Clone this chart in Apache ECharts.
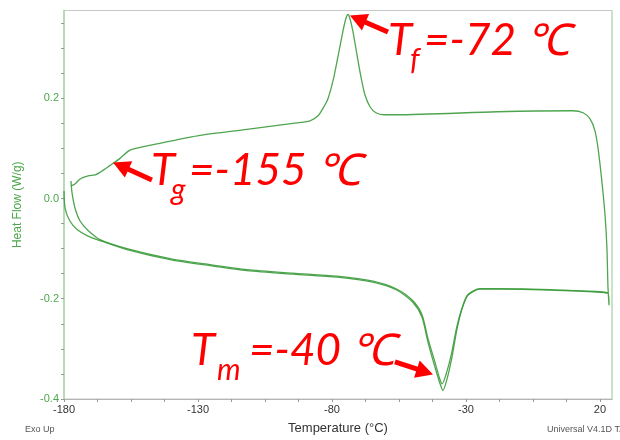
<!DOCTYPE html>
<html>
<head>
<meta charset="utf-8">
<script src="https://cdn.jsdelivr.net/npm/echarts@6/dist/echarts.min.js"></script>
<style>
html,body{margin:0;padding:0;background:#fff;}
#chart{width:620px;height:440px;}
</style>
</head>
<body>
<div id="chart"></div>
<script>
// ---- data ----
const upperTemp = [-177.4,-175.9,-174.0,-171.0,-168.4,-166.6,-162.8,-159.1,-156.1,-154.6,-144.2,-129.3,-111.7,-94.6,-88.2,-85.2,-83.0,-81.5,-79.6,-77.8,-75.9,-74.8,-74.0,-73.3,-72.2,-70.7,-69.2,-67.7,-65.8,-63.6,-60.6,-55.7,-18.4,9.9,13.7,16.3,18.1,19.3,20.7,21.9,22.6,23.0,23.4];
const upperFlow = [0.025,0.029,0.039,0.045,0.047,0.052,0.066,0.080,0.094,0.098,0.110,0.126,0.138,0.150,0.155,0.165,0.183,0.199,0.235,0.282,0.334,0.359,0.367,0.359,0.334,0.288,0.243,0.207,0.183,0.171,0.167,0.167,0.173,0.175,0.171,0.159,0.136,0.100,0.035,-0.033,-0.098,-0.177,-0.213];
const lowerTemp1 = [23.0,1.3,-18.4,-24.8,-29.3,-31.5,-33.4,-35.2,-37.1,-38.6,-39.7,-41.6,-44.2,-46.4,-49.8,-55.7,-64.7,-78.1,-94.6,-111.7,-125.5,-140.4,-156.5,-166.6,-171.4,-175.1,-177.8,-179.6,-180.0];
const lowerFlow1 = [-0.189,-0.183,-0.181,-0.181,-0.193,-0.221,-0.262,-0.316,-0.361,-0.383,-0.369,-0.336,-0.286,-0.237,-0.207,-0.183,-0.167,-0.157,-0.151,-0.144,-0.134,-0.122,-0.102,-0.084,-0.074,-0.062,-0.045,-0.019,0.015];
const lowerTemp2 = [-177.4,-177.0,-175.9,-174.0,-171.0,-166.6,-156.5,-140.4,-125.5,-111.7,-94.6,-78.1,-64.7,-55.7,-49.8,-46.4,-44.2,-41.6,-39.9,-38.9,-37.5,-35.4,-33.5,-31.5,-29.3,-24.8,-18.4,1.3,23.0];
const lowerFlow2 = [0.035,0.011,-0.019,-0.045,-0.064,-0.082,-0.100,-0.120,-0.132,-0.142,-0.149,-0.155,-0.165,-0.181,-0.204,-0.232,-0.279,-0.326,-0.358,-0.370,-0.352,-0.310,-0.258,-0.219,-0.192,-0.180,-0.180,-0.182,-0.188];
const xTickLabels = ['-180','-130','-80','-30','20'];
const yTickLabels = ['-0.4','-0.2','0.0','0.2'];
const annotations = [
  {main:'T', sub:'f', rest:'=-72 \u2103', tail:[-59.1,0.332], tip:[-73.3,0.365]},
  {main:'T', sub:'g', rest:'=-155 \u2103', tail:[-147.2,0.037], tip:[-161.7,0.072]},
  {main:'T', sub:'m', rest:'=-40 \u2103', tail:[-56.5,-0.326], tip:[-42.3,-0.351]}
];

// ---- build ----
const zip = (xs, ys) => xs.map((x, i) => [x, ys[i]]);
const path1 = zip(upperTemp, upperFlow).concat(zip(lowerTemp1, lowerFlow1));
const path2 = zip(lowerTemp2, lowerFlow2);

const GREEN = 'rgba(60,155,60,0.9)';
const chart = echarts.init(document.getElementById('chart'), null, {renderer:'canvas'});

chart.setOption({
  animation:false,
  backgroundColor:'#ffffff',
  grid:{left:64, right:8, top:10.5, bottom:37, show:true, borderColor:'#c8c8c8', borderWidth:1, containLabel:false},
  xAxis:{
    type:'value', min:-180, max:24.5, interval:12.5,
    name:'Temperature (\u00B0C)', nameLocation:'middle', nameGap:23,
    nameTextStyle:{color:'#333', fontSize:13, fontFamily:'Liberation Sans'},
    axisLine:{show:true, onZero:false, lineStyle:{color:'#b4b4b4', width:1}},
    axisTick:{show:true, length:3, lineStyle:{color:'#999'}},
    splitLine:{show:false},
    axisLabel:{
      color:'#333', fontSize:11, fontFamily:'Liberation Sans', margin:5,
      showMaxLabel:false, showMinLabel:true,
      formatter:(v)=>{
        const k=(v+180)/50;
        if (Math.abs(k-Math.round(k))>1e-6) return '';
        const s=String(Math.round(v));
        return xTickLabels.indexOf(s)>=0 ? s : '';
      }
    }
  },
  yAxis:[{
    type:'value', min:-0.4, max:0.375, interval:0.05, position:'left',
    name:'Heat Flow (W/g)', nameLocation:'middle', nameGap:40,
    nameTextStyle:{color:'#4ca64c', fontSize:12, fontFamily:'Liberation Sans'},
    axisLine:{show:true, onZero:false, lineStyle:{color:'#a8d8a8', width:1.5}},
    axisTick:{show:true, length:3, lineStyle:{color:'#999'}},
    splitLine:{show:false},
    axisLabel:{
      color:'#4ca64c', fontSize:11, fontFamily:'Liberation Sans', margin:5,
      showMaxLabel:false,
      formatter:(v)=>{
        const k=v*5;
        if (Math.abs(k-Math.round(k))>1e-6) return '';
        const s=(Math.abs(v)<1e-9?0:v).toFixed(1);
        return yTickLabels.indexOf(s)>=0 ? s : '';
      }
    }
  },{
    type:'value', min:-0.4, max:0.375, position:'right',
    axisLine:{show:true, onZero:false, lineStyle:{color:'#bfe3bf', width:1.5}},
    axisTick:{show:false}, axisLabel:{show:false}, splitLine:{show:false}
  }],
  series:[
    {type:'line', data:path1, showSymbol:false, smooth:0.25, lineStyle:{color:GREEN, width:1.3}, z:3},
    {type:'line', data:path2, showSymbol:false, smooth:0.25, lineStyle:{color:GREEN, width:1.3}, z:3}
  ],
  graphic:[
    {type:'text', left:25, top:425, style:{text:'Exo Up', fill:'#555', font:'9px "Liberation Sans"'}},
    {type:'text', left:547, top:425, style:{text:'Universal V4.1D TA Instruments', fill:'#555', font:'9px "Liberation Sans"'}}
  ]
});

// ---- annotations (text layout in pixels, arrows anchored in data coordinates) ----
const textPos = [
  {x:388, y:41, subDx:22, subY:60, restDx:36},
  {x:151, y:171, subDx:20, subY:190, restDx:38},
  {x:191, y:351, subDx:26, subY:370, restDx:58}
];
const RED = '#ff0000';
const g = [];
const FONT = '"Lato","Liberation Sans",sans-serif';
annotations.forEach((a, i) => {
  const p = textPos[i];
  g.push({type:'text', x:p.x, y:p.y, style:{text:a.main, fill:RED, font:'italic 44px '+FONT, verticalAlign:'middle', align:'left'}, z:20});
  g.push({type:'text', x:p.x+p.subDx, y:p.subY, style:{text:a.sub, fill:RED, font:'italic 30px '+FONT, verticalAlign:'middle', align:'left'}, z:20});
  g.push({type:'text', x:p.x+p.restDx, y:p.y, style:{text:a.rest, fill:RED, font:'italic 44px '+FONT, verticalAlign:'middle', align:'left'}, z:20});
  const p0 = chart.convertToPixel({gridIndex:0}, a.tail);
  const p1 = chart.convertToPixel({gridIndex:0}, a.tip);
  const dx=p1[0]-p0[0], dy=p1[1]-p0[1], len=Math.hypot(dx,dy), ux=dx/len, uy=dy/len, px=-uy, py=ux;
  const L=17, W=9;
  const bx=p1[0]-ux*L, by=p1[1]-uy*L;
  g.push({type:'line', shape:{x1:p0[0], y1:p0[1], x2:bx+ux*2, y2:by+uy*2}, style:{stroke:RED, lineWidth:5}, z:20});
  g.push({type:'polygon', shape:{points:[[p1[0],p1[1]],[bx+px*W,by+py*W],[bx-px*W,by-py*W]]}, style:{fill:RED}, z:20});
});
chart.setOption({graphic: chart.getOption().graphic[0].elements.concat(g)});
</script>
</body>
</html>
